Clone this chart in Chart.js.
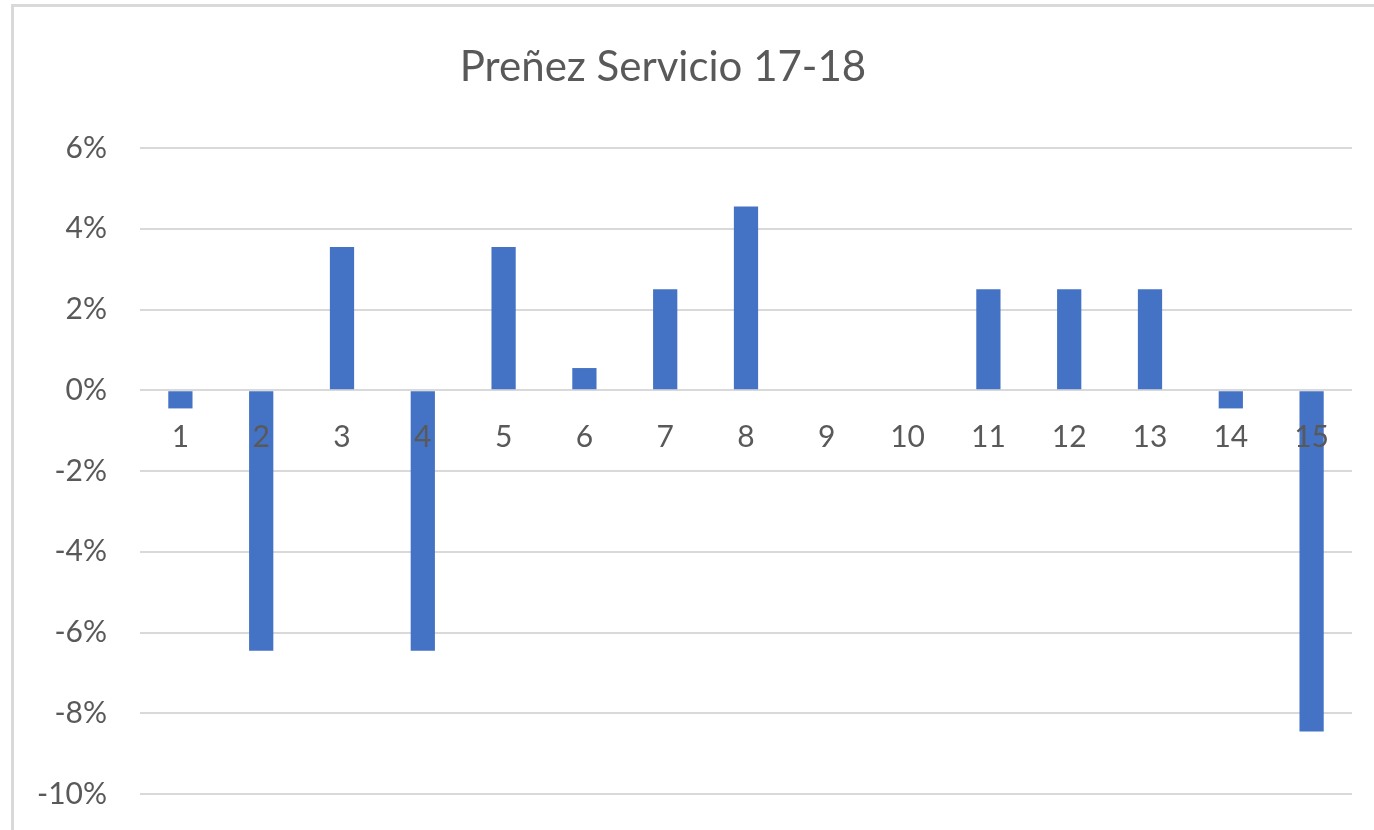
<!DOCTYPE html>
<html lang="es">
<head>
<meta charset="UTF-8">
<title>Preñez Servicio 17-18</title>
<script src="https://cdn.jsdelivr.net/npm/chart.js@4.4.1/dist/chart.umd.min.js"></script>
<style>
    html, body {
        margin: 0;
        padding: 0;
        background: #fff;
        overflow: hidden;
    }
    .frame {
        position: absolute;
        left: 11px;
        top: 4px;
        width: 1400px;
        height: 900px;
        border-left: 3px solid #d9d9d9;
        border-top: 3px solid #d9d9d9;
    }
    .chart-title {
        position: absolute;
        top: 37px;
        left: 363px;
        width: 600px;
        text-align: center;
        font-family: 'Lato', sans-serif;
        font-size: 42px;
        line-height: 56px;
        color: #595959;
    }
    /* el grafico original sigue por debajo del borde de la imagen */
    .wrap {
        position: absolute;
        left: 0;
        top: 0;
        width: 1374px;
        height: 845px;
    }
</style>
</head>
<body>
<div class="frame"></div>
<div class="wrap"><canvas id="chart"></canvas></div>
<div class="chart-title">Preñez Servicio 17-18</div>

<script>
    // datos (en %)
    const categorias = ['1', '2', '3', '4', '5', '6', '7', '8', '9', '10', '11', '12', '13', '14', '15'];
    const prenez = [-0.45, -6.45, 3.55, -6.45, 3.55, 0.55, 2.5, 4.55, 0, 0, 2.5, 2.5, 2.5, -0.45, -8.45];
    const ejeMin = -10;
    const ejeMax = 6;
    const paso = 2;

    const gris = '#595959';

    new Chart(document.getElementById('chart'), {
        type: 'bar',
        data: {
            labels: categorias,
            datasets: [{
                label: 'Preñez',
                data: prenez,
                backgroundColor: '#4472C4',
                borderWidth: 0,
                barPercentage: 1,
                categoryPercentage: 0.3
            }]
        },
        options: {
            responsive: true,
            maintainAspectRatio: false,
            animation: false,
            layout: {
                padding: { top: 148, right: 22, bottom: 0, left: 0 }
            },
            plugins: {
                legend: { display: false },
                tooltip: { enabled: false },
                title: { display: false }
            },
            scales: {
                x: {
                    position: { y: 0 },
                    grid: { display: false, drawTicks: false },
                    border: { display: false },
                    ticks: {
                        z: 1,
                        padding: 29,
                        color: gris,
                        maxRotation: 0,
                        font: { family: 'Lato', size: 30 }
                    }
                },
                y: {
                    min: ejeMin,
                    max: ejeMax,
                    grid: { color: '#d9d9d9', lineWidth: 2, drawTicks: false },
                    border: { display: false },
                    ticks: {
                        stepSize: paso,
                        padding: 33,
                        color: gris,
                        font: { family: 'Lato', size: 30 },
                        callback: v => v + '%'
                    },
                    afterFit: s => { s.width = 140; }
                }
            }
        }
    });
</script>
</body>
</html>
